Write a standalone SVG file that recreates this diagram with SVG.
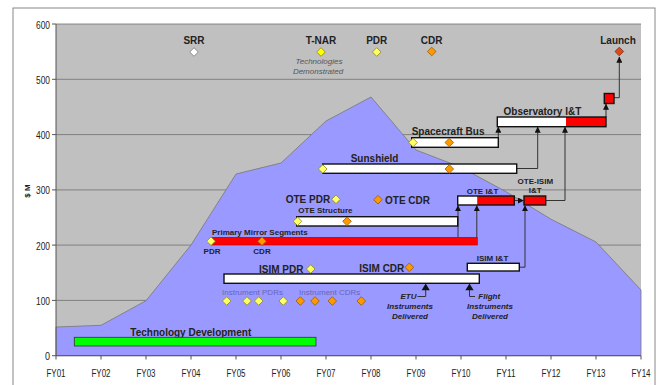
<svg xmlns="http://www.w3.org/2000/svg" xmlns:xlink="http://www.w3.org/1999/xlink" width="657" height="385" viewBox="0 0 657 385">
<style>
text{font-family:"Liberation Sans",Arial,sans-serif;fill:#222}
.b10{font-size:10px;font-weight:bold}
.b8{font-size:8px;font-weight:bold}
.ax{font-size:10px;fill:#333}
.it{font-size:8px;font-style:italic;fill:#555}
.bi{font-size:8px;font-style:italic;font-weight:bold}
.ins{font-size:8px;fill:#6666bb}
.grid{stroke:#707070;stroke-width:0.8}
.bar{stroke:#111;stroke-width:1.4}
.w{fill:#fff}
.r{fill:#ff0000}
.con{fill:none;stroke:#333;stroke-width:1}
.dy{fill:#ffff66;stroke:#8a8a20;stroke-width:0.8}
.dY{fill:#ffff00;stroke:#8a8a20;stroke-width:0.8}
.do{fill:#ff9900;stroke:#9a5a00;stroke-width:0.8}
.dw{fill:#ffffff;stroke:#777;stroke-width:0.8}
.dl{fill:#e0471a;stroke:#7a2a10;stroke-width:0.8}
</style>
<defs>
<path id="dia" d="M0,-4.3 L4.3,0 L0,4.3 L-4.3,0 Z"/>
<marker id="ah" viewBox="0 0 8 8" refX="7.5" refY="4" markerWidth="6" markerHeight="6" markerUnits="userSpaceOnUse" orient="auto">
<path d="M0,0 L8,4 L0,8 Z" fill="#111"/>
</marker>
</defs>
<rect x="0" y="0" width="657" height="385" fill="#fff"/>
<rect x="13" y="8" width="642" height="390" fill="#fff" stroke="#888" stroke-width="1"/>
<g id="plot">
<rect x="56" y="24" width="585" height="331.7" fill="#c0c0c0"/>
<g class="grid">
<line x1="56" y1="24" x2="641" y2="24"/>
<line x1="56" y1="79.3" x2="641" y2="79.3"/>
<line x1="56" y1="134.6" x2="641" y2="134.6"/>
<line x1="56" y1="189.9" x2="641" y2="189.9"/>
<line x1="56" y1="245.1" x2="641" y2="245.1"/>
<line x1="56" y1="300.4" x2="641" y2="300.4"/>
</g>
<polygon points="56,327 101,325.3 146,300.7 191,245 236,174 281,163 326,121 371,97 416,150 460.3,167 505.7,191.5 550.7,219 596,242 641,290 641,355.7 56,355.7" fill="#9999ff" stroke="#777" stroke-width="0.8"/>
<g stroke="#555" stroke-width="1">
<line x1="56" y1="24" x2="56" y2="355.7"/>
<line x1="56" y1="355.7" x2="641" y2="355.7"/>
<line x1="52" y1="24" x2="56" y2="24"/><line x1="52" y1="79.3" x2="56" y2="79.3"/><line x1="52" y1="134.6" x2="56" y2="134.6"/><line x1="52" y1="189.9" x2="56" y2="189.9"/><line x1="52" y1="245.1" x2="56" y2="245.1"/><line x1="52" y1="300.4" x2="56" y2="300.4"/><line x1="52" y1="355.7" x2="56" y2="355.7"/>
<line x1="56" y1="355.7" x2="56" y2="359.5"/><line x1="101" y1="355.7" x2="101" y2="359.5"/><line x1="146" y1="355.7" x2="146" y2="359.5"/><line x1="191" y1="355.7" x2="191" y2="359.5"/><line x1="236" y1="355.7" x2="236" y2="359.5"/><line x1="281" y1="355.7" x2="281" y2="359.5"/><line x1="326" y1="355.7" x2="326" y2="359.5"/><line x1="371" y1="355.7" x2="371" y2="359.5"/><line x1="416" y1="355.7" x2="416" y2="359.5"/><line x1="461" y1="355.7" x2="461" y2="359.5"/><line x1="506" y1="355.7" x2="506" y2="359.5"/><line x1="551" y1="355.7" x2="551" y2="359.5"/><line x1="596" y1="355.7" x2="596" y2="359.5"/><line x1="641" y1="355.7" x2="641" y2="359.5"/>
</g>
<g class="ax" text-anchor="end">
<text x="50" y="28.5" textLength="14" lengthAdjust="spacingAndGlyphs">600</text>
<text x="50" y="83.8" textLength="14" lengthAdjust="spacingAndGlyphs">500</text>
<text x="50" y="139.1" textLength="14" lengthAdjust="spacingAndGlyphs">400</text>
<text x="50" y="194.4" textLength="14" lengthAdjust="spacingAndGlyphs">300</text>
<text x="50" y="249.6" textLength="14" lengthAdjust="spacingAndGlyphs">200</text>
<text x="50" y="304.9" textLength="14" lengthAdjust="spacingAndGlyphs">100</text>
<text x="50" y="360.2" textLength="5" lengthAdjust="spacingAndGlyphs">0</text>
</g>
<g class="ax" text-anchor="middle">
<text x="56" y="376.5" textLength="19" lengthAdjust="spacingAndGlyphs">FY01</text>
<text x="101" y="376.5" textLength="19" lengthAdjust="spacingAndGlyphs">FY02</text>
<text x="146" y="376.5" textLength="19" lengthAdjust="spacingAndGlyphs">FY03</text>
<text x="191" y="376.5" textLength="19" lengthAdjust="spacingAndGlyphs">FY04</text>
<text x="236" y="376.5" textLength="19" lengthAdjust="spacingAndGlyphs">FY05</text>
<text x="281" y="376.5" textLength="19" lengthAdjust="spacingAndGlyphs">FY06</text>
<text x="326" y="376.5" textLength="19" lengthAdjust="spacingAndGlyphs">FY07</text>
<text x="371" y="376.5" textLength="19" lengthAdjust="spacingAndGlyphs">FY08</text>
<text x="416" y="376.5" textLength="19" lengthAdjust="spacingAndGlyphs">FY09</text>
<text x="461" y="376.5" textLength="19" lengthAdjust="spacingAndGlyphs">FY10</text>
<text x="506" y="376.5" textLength="19" lengthAdjust="spacingAndGlyphs">FY11</text>
<text x="551" y="376.5" textLength="19" lengthAdjust="spacingAndGlyphs">FY12</text>
<text x="596" y="376.5" textLength="19" lengthAdjust="spacingAndGlyphs">FY13</text>
<text x="641" y="376.5" textLength="19" lengthAdjust="spacingAndGlyphs">FY14</text>
</g>
<text class="b8" transform="translate(30,191) rotate(-90)" text-anchor="middle">$ M</text>
</g>
<g id="connectors">
<path class="con" d="M606,117 V104" marker-end="url(#ah)"/>
<path class="con" d="M614,97.7 H619.3 V57" marker-end="url(#ah)"/>
<path class="con" d="M498.3,137.7 V127" marker-end="url(#ah)"/>
<path class="con" d="M516.7,168.5 H537.7 V127" marker-end="url(#ah)"/>
<path class="con" d="M545.7,200.5 H565 V127" marker-end="url(#ah)"/>
<path class="con" d="M514.3,200.5 H523.5" marker-end="url(#ah)"/>
<path class="con" d="M519.3,267.2 H525 V205.5" marker-end="url(#ah)"/>
<path class="con" d="M458,237.3 V205.5" marker-end="url(#ah)"/>
<path class="con" d="M476.8,237.3 V205.5" marker-end="url(#ah)"/>
<path class="con" d="M425.7,290 V296.5 H417.5"/>
<path d="M425.7,283.5 L429.8,290.3 L421.6,290.3 Z" fill="#111"/>
<path class="con" d="M469.5,290 V296.5 H475"/>
<path d="M469.5,283.5 L473.6,290.3 L465.4,290.3 Z" fill="#111"/>
</g>
<g id="milestones">
<text class="b10" x="194" y="43.5" text-anchor="middle">SRR</text>
<use xlink:href="#dia" x="194" y="52" class="dw"/>
<text class="b10" x="321" y="43.5" text-anchor="middle">T-NAR</text>
<use xlink:href="#dia" x="321" y="52" class="dY"/>
<text class="it" x="319" y="64" text-anchor="middle">Technologies</text>
<text class="it" x="318" y="73.5" text-anchor="middle">Demonstrated</text>
<text class="b10" x="376.7" y="43.5" text-anchor="middle">PDR</text>
<use xlink:href="#dia" x="376.7" y="52" class="dy"/>
<text class="b10" x="431.7" y="43.5" text-anchor="middle">CDR</text>
<use xlink:href="#dia" x="431.7" y="51.5" class="do"/>
<text class="b10" x="618" y="43.5" text-anchor="middle">Launch</text>
<use xlink:href="#dia" x="619.3" y="51.5" class="dl"/>
</g>
<g id="observatory">
<text class="b10" x="503.5" y="114.5">Observatory I&amp;T</text>
<rect class="w" x="497.3" y="117" width="68.7" height="9.7"/>
<rect class="r" x="566" y="117" width="40" height="9.7"/>
<rect class="bar" x="497.3" y="117" width="108.7" height="9.7" fill="none"/>
<rect class="bar r" x="604.3" y="93.5" width="9.7" height="10"/>
</g>
<g id="spacecraft-bus">
<text class="b10" x="411.7" y="134.5">Spacecraft Bus</text>
<rect class="bar w" x="411.7" y="137.7" width="86.6" height="9.6"/>
<use xlink:href="#dia" x="413" y="142.5" class="dy"/>
<use xlink:href="#dia" x="449.3" y="142.5" class="do"/>
</g>
<g id="sunshield">
<text class="b10" x="350.7" y="162.3">Sunshield</text>
<rect class="bar w" x="322.7" y="164" width="194" height="9.3"/>
<use xlink:href="#dia" x="322.7" y="169" class="dy"/>
<use xlink:href="#dia" x="449.3" y="169" class="do"/>
</g>
<g id="ote-it">
<text class="b8" x="482.5" y="194.3" text-anchor="middle">OTE I&amp;T</text>
<rect class="w" x="457.7" y="196" width="19.6" height="9"/>
<rect class="r" x="477.3" y="196" width="37" height="9"/>
<rect class="bar" x="457.7" y="196" width="56.6" height="9" fill="none"/>
</g>
<g id="ote-isim-it">
<text class="b8" x="535.3" y="184.3" text-anchor="middle">OTE-ISIM</text>
<text class="b8" x="535.3" y="193.3" text-anchor="middle">I&amp;T</text>
<rect class="bar r" x="524" y="196" width="21.7" height="9"/>
</g>
<g id="ote-pdr-cdr">
<text class="b10" x="285.7" y="203.3">OTE PDR</text>
<use xlink:href="#dia" x="336" y="199.3" class="dy"/>
<use xlink:href="#dia" x="378" y="199.7" class="do"/>
<text class="b10" x="385" y="203.5">OTE CDR</text>
</g>
<g id="ote-structure">
<text class="b8" x="298.3" y="213.3">OTE Structure</text>
<rect class="bar w" x="296.7" y="216.7" width="161" height="9.3"/>
<use xlink:href="#dia" x="297.5" y="221.3" class="dy"/>
<use xlink:href="#dia" x="347" y="221.3" class="do"/>
</g>
<g id="primary-mirror">
<text class="b8" x="212" y="235">Primary Mirror Segments</text>
<rect x="211" y="237.3" width="266.3" height="7.7" fill="#ff0000" stroke="#aa0000" stroke-width="0.6"/>
<use xlink:href="#dia" x="211" y="241.2" class="dy"/>
<use xlink:href="#dia" x="262" y="241.2" class="do"/>
<text class="b8" x="212" y="253.5" text-anchor="middle">PDR</text>
<text class="b8" x="262" y="253.5" text-anchor="middle">CDR</text>
</g>
<g id="isim-it">
<text class="b8" x="492.5" y="261" text-anchor="middle">ISIM I&amp;T</text>
<rect class="bar w" x="467.3" y="263.3" width="52" height="7.7"/>
</g>
<g id="isim">
<text class="b10" x="259" y="273.3">ISIM PDR</text>
<use xlink:href="#dia" x="310.7" y="269" class="dy"/>
<text class="b10" x="359.3" y="271.7">ISIM CDR</text>
<use xlink:href="#dia" x="409.3" y="267.3" class="do"/>
<rect class="bar w" x="224" y="274" width="255.3" height="9.3"/>
</g>
<g id="instruments">
<text class="ins" x="222" y="295">Instrument PDRs</text>
<text class="ins" x="299" y="295">Instrument CDRs</text>
<use xlink:href="#dia" x="226.7" y="301" class="dy"/>
<use xlink:href="#dia" x="247" y="301" class="dy"/>
<use xlink:href="#dia" x="258.7" y="301" class="dy"/>
<use xlink:href="#dia" x="283.3" y="301" class="dy"/>
<use xlink:href="#dia" x="300.3" y="301" class="do"/>
<use xlink:href="#dia" x="315" y="301" class="do"/>
<use xlink:href="#dia" x="332.3" y="301" class="do"/>
<use xlink:href="#dia" x="361.3" y="301" class="do"/>
</g>
<g id="etu-delivered">
<text class="bi" x="416.5" y="299.3" text-anchor="end">ETU</text>
<text class="bi" x="410" y="309" text-anchor="middle">Instruments</text>
<text class="bi" x="410" y="318.7" text-anchor="middle">Delivered</text>
</g>
<g id="flight-delivered">
<text class="bi" x="478.3" y="299.3">Flight</text>
<text class="bi" x="490" y="309" text-anchor="middle">Instruments</text>
<text class="bi" x="490" y="318.7" text-anchor="middle">Delivered</text>
</g>
<g id="technology-development">
<text class="b10" x="190.8" y="335.5" text-anchor="middle">Technology Development</text>
<rect x="74.3" y="337.3" width="241.7" height="8.7" fill="#00ff00" stroke="#333" stroke-width="0.8"/>
</g>
</svg>
